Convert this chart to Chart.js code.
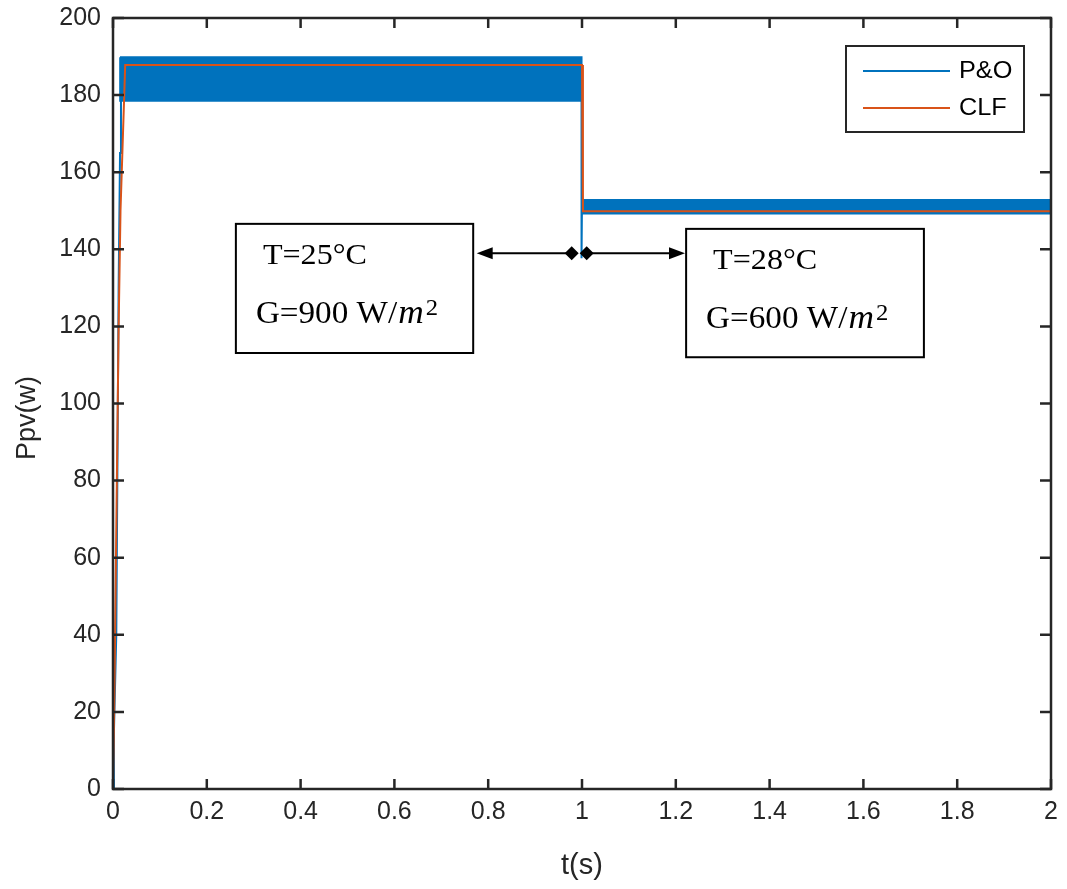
<!DOCTYPE html>
<html>
<head>
<meta charset="utf-8">
<script src="https://cdn.jsdelivr.net/npm/chart.js@4.4.1/dist/chart.umd.min.js"></script>
<style>
  html, body { margin: 0; padding: 0; background: #fff; }
  #wrap { width: 1067px; height: 889px; }
</style>
</head>
<body>
<div id="wrap"><canvas id="myChart" width="1067" height="889"></canvas></div>
<script>
// P&O trace (rise, drop at t=1)
const poTime  = [0, 0.002, 0.007, 0.012, 0.015, 0.017, 0.999, 0.999, 1.0, 2];
const poPower = [0, 15, 40, 130, 165, 189.8, 189.8, 137.7, 152.8, 152.8];

// P&O oscillation band (upper / lower envelope)
const band1Time = [0.013, 0.9995];
const band1High = [189.8, 189.8];
const band1Low  = [178.3, 178.3];
const band2Time = [1.0, 2];
const band2High = [152.8, 152.8];
const band2Low  = [149.0, 149.0];

// CLF trace
const clfTime  = [0, 0.003, 0.012, 0.016, 0.026, 1.0, 1.002, 2];
const clfPower = [0, 25, 120, 150, 187.8, 187.8, 149.9, 149.9];

const yTicks = [0, 20, 40, 60, 80, 100, 120, 140, 160, 180, 200];
const xTicks = [0, 0.2, 0.4, 0.6, 0.8, 1, 1.2, 1.4, 1.6, 1.8, 2];

const seriesNames = ['P&O', 'CLF'];
const yTitle = 'Ppv(w)';
const blue = '#0072BD';
const orange = '#D95319';
const sans = '"Liberation Sans", Arial, sans-serif';
const serif = '"Liberation Serif", "Times New Roman", serif';

function pts(xs, ys) {
    return xs.map((x, i) => ({ x, y: ys[i] }));
}

// marco tipo matlab con ticks hacia dentro
const boxPlugin = {
    id: 'boxPlugin',
    afterDraw(chart) {
        const { ctx, chartArea: a, scales: { x, y } } = chart;
        ctx.save();
        ctx.strokeStyle = '#262626';
        ctx.lineWidth = 2.5;
        ctx.beginPath();
        xTicks.forEach(v => {
            const p = x.getPixelForValue(v);
            ctx.moveTo(p, a.bottom); ctx.lineTo(p, a.bottom - 10);
            ctx.moveTo(p, a.top); ctx.lineTo(p, a.top + 10);
        });
        yTicks.forEach(v => {
            const p = y.getPixelForValue(v);
            ctx.moveTo(a.left, p); ctx.lineTo(a.left + 11, p);
            ctx.moveTo(a.right, p); ctx.lineTo(a.right - 11, p);
        });
        ctx.stroke();
        ctx.strokeRect(a.left, a.top, a.right - a.left, a.bottom - a.top);

        // titulo eje y
        ctx.translate(28, 418);
        ctx.rotate(-Math.PI / 2);
        ctx.font = '27px ' + sans;
        ctx.fillStyle = '#262626';
        ctx.textAlign = 'center';
        ctx.textBaseline = 'middle';
        ctx.fillText(yTitle, 0, 0);
        ctx.restore();
    }
};

// leyenda
const legendPlugin = {
    id: 'legendPlugin',
    afterDraw(chart) {
        const { ctx, chartArea: a } = chart;
        const w = 178, h = 86;
        const left = a.right - 27 - w, top = a.top + 28;
        ctx.save();
        ctx.fillStyle = '#fff';
        ctx.fillRect(left, top, w, h);
        ctx.strokeStyle = '#262626';
        ctx.lineWidth = 2;
        ctx.strokeRect(left, top, w, h);
        const colors = [blue, orange];
        ctx.textBaseline = 'middle';
        seriesNames.forEach((name, i) => {
            const yy = top + 25 + i * 37;
            ctx.strokeStyle = colors[i];
            ctx.lineWidth = 2;
            ctx.beginPath();
            ctx.moveTo(left + 17, yy);
            ctx.lineTo(left + 104, yy);
            ctx.stroke();
            ctx.save();
            ctx.translate(left + 113, yy + 1);
            ctx.scale(1.1, 1);
            ctx.font = '23px ' + sans;
            ctx.fillStyle = '#000';
            ctx.fillText(name, 0, 0);
            ctx.restore();
        });
        ctx.restore();
    }
};

// cuadros de texto y flechas
const notes = [
    { x0: 0.262, x1: 0.768, yTop: 146.6, yBot: 113.1, t: 'T=25°C', g: 'G=900 W/' },
    { x0: 1.222, x1: 1.729, yTop: 145.3, yBot: 112.0, t: 'T=28°C', g: 'G=600 W/' }
];
const arrowY = 139.0;

const notePlugin = {
    id: 'notePlugin',
    afterDraw(chart) {
        const { ctx, scales: { x, y } } = chart;
        ctx.save();
        ctx.strokeStyle = '#000';
        notes.forEach(n => {
            const l = x.getPixelForValue(n.x0), r = x.getPixelForValue(n.x1);
            const t = y.getPixelForValue(n.yTop), b = y.getPixelForValue(n.yBot);
            ctx.fillStyle = '#fff';
            ctx.fillRect(l, t, r - l, b - t);
            ctx.lineWidth = 2;
            ctx.strokeRect(l, t, r - l, b - t);
            ctx.fillStyle = '#000';
            ctx.textBaseline = 'alphabetic';

            ctx.save();
            ctx.translate(l + 27, t + 40);
            ctx.scale(1.07, 1);
            ctx.font = '30px ' + serif;
            ctx.fillText(n.t, 0, 0);
            ctx.restore();

            ctx.save();
            ctx.translate(l + 20, t + 99);
            ctx.scale(1.07, 1);
            ctx.font = '31px ' + serif;
            ctx.fillText(n.g, 0, 0);
            let gx = ctx.measureText(n.g).width + 1;
            ctx.font = 'italic 33px ' + serif;
            ctx.fillText('m', gx, 0);
            gx += ctx.measureText('m').width + 2;
            ctx.font = '23px ' + serif;
            ctx.fillText('2', gx, -8);
            ctx.restore();
        });

        const ay = y.getPixelForValue(arrowY);
        const lTip = x.getPixelForValue(0.7755), lDia = x.getPixelForValue(0.978);
        const rDia = x.getPixelForValue(1.010), rTip = x.getPixelForValue(1.2196);
        ctx.lineWidth = 2;
        ctx.beginPath();
        ctx.moveTo(lTip + 4, ay); ctx.lineTo(lDia, ay);
        ctx.moveTo(rDia, ay); ctx.lineTo(rTip - 4, ay);
        ctx.stroke();
        const head = (tip, dir) => {
            ctx.beginPath();
            ctx.moveTo(tip, ay);
            ctx.lineTo(tip + dir * 16, ay - 6);
            ctx.lineTo(tip + dir * 16, ay + 6);
            ctx.closePath();
            ctx.fill();
        };
        head(lTip, 1);
        head(rTip, -1);
        const diamond = cx => {
            ctx.beginPath();
            ctx.moveTo(cx - 7, ay);
            ctx.lineTo(cx, ay - 7);
            ctx.lineTo(cx + 7, ay);
            ctx.lineTo(cx, ay + 7);
            ctx.closePath();
            ctx.fill();
        };
        diamond(lDia);
        diamond(rDia);
        ctx.restore();
    }
};

const ctx = document.getElementById('myChart').getContext('2d');
new Chart(ctx, {
    type: 'line',
    data: {
        datasets: [
            {
                label: 'CLF',
                data: pts(clfTime, clfPower),
                borderColor: orange,
                borderWidth: 2,
                pointRadius: 0,
                fill: false,
                order: 0
            },
            {
                label: 'P&O',
                data: pts(poTime, poPower),
                borderColor: blue,
                borderWidth: 2,
                pointRadius: 0,
                fill: false,
                order: 1
            },
            {
                label: 'band1High',
                data: pts(band1Time, band1High),
                borderWidth: 0,
                borderColor: blue,
                backgroundColor: blue,
                pointRadius: 0,
                fill: '+1',
                order: 2
            },
            {
                label: 'band1Low',
                data: pts(band1Time, band1Low),
                borderWidth: 0,
                pointRadius: 0,
                fill: false,
                order: 3
            },
            {
                label: 'band2High',
                data: pts(band2Time, band2High),
                borderWidth: 0,
                borderColor: blue,
                backgroundColor: blue,
                pointRadius: 0,
                fill: '+1',
                order: 4
            },
            {
                label: 'band2Low',
                data: pts(band2Time, band2Low),
                borderWidth: 0,
                pointRadius: 0,
                fill: false,
                order: 5
            }
        ]
    },
    options: {
        responsive: false,
        animation: false,
        layout: { padding: { top: 18, right: 16, left: 0, bottom: 0 } },
        plugins: {
            legend: { display: false },
            tooltip: { enabled: false }
        },
        scales: {
            x: {
                type: 'linear',
                min: 0,
                max: 2,
                afterBuildTicks: s => { s.ticks = xTicks.map(v => ({ value: v })); },
                afterFit: s => { s.height = 100; s.paddingLeft = 0; s.paddingRight = 0; },
                grid: { display: false, drawTicks: false },
                border: { display: false },
                ticks: {
                    padding: 8,
                    color: '#262626',
                    callback: v => String(v),
                    font: { family: sans, size: 25 }
                },
                title: {
                    display: true,
                    text: 't(s)',
                    color: '#262626',
                    padding: { top: 0, bottom: 6 },
                    font: { family: sans, size: 29 }
                }
            },
            y: {
                min: 0,
                max: 200,
                afterBuildTicks: s => { s.ticks = yTicks.map(v => ({ value: v })); },
                afterFit: s => { s.width = 113; s.paddingTop = 0; s.paddingBottom = 0; },
                grid: { display: false, drawTicks: false },
                border: { display: false },
                ticks: {
                    padding: 12,
                    color: '#262626',
                    callback: v => String(v),
                    font: { family: sans, size: 25 }
                },
                title: { display: false }
            }
        }
    },
    plugins: [boxPlugin, legendPlugin, notePlugin]
});
</script>
</body>
</html>
